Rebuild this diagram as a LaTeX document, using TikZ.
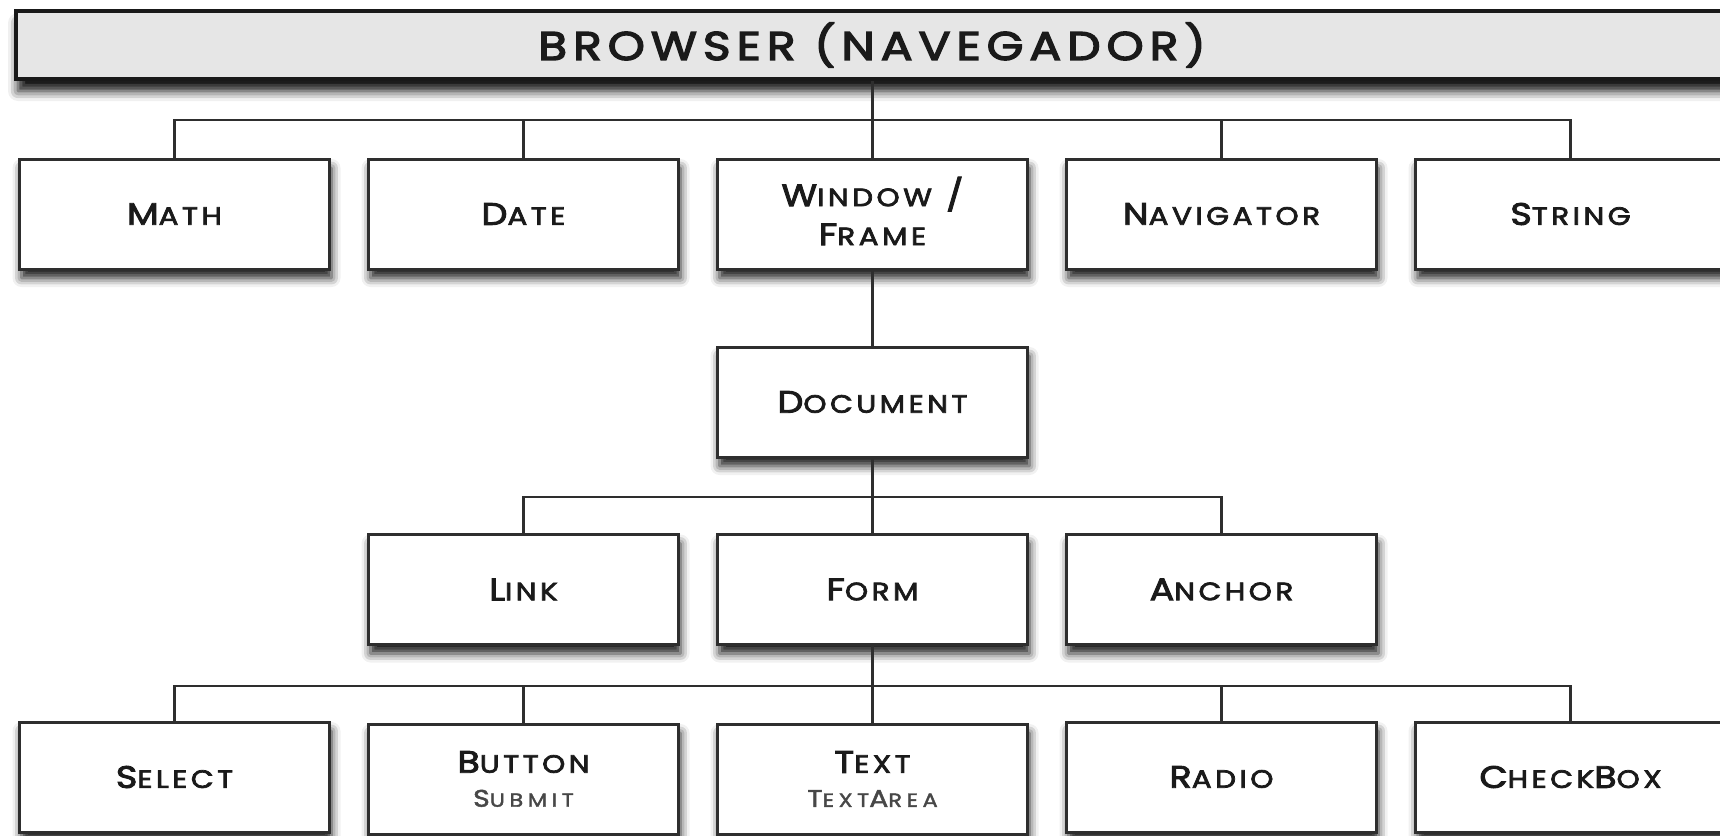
\documentclass[tikz,border=0pt]{standalone}
\usepackage{fontspec}
\setmainfont{Poppins}
\newfontfamily\lblfont{Poppins}[LetterSpace=14,FakeBold=3,FakeStretch=1.18]
\newfontfamily\barfont{Poppins}[LetterSpace=15,FakeBold=3.5,FakeStretch=1.18]
\newfontfamily\subfont{Poppins}[LetterSpace=24,FakeBold=2,FakeStretch=1.18]
\usetikzlibrary{shadows.blur}
\newcommand\BC[1]{{\fontsize{31pt}{39pt}\selectfont #1}}
\newcommand\SCp[1]{{\fontsize{25pt}{39pt}\selectfont #1}}
\newcommand\BCs[1]{{\fontsize{24pt}{30pt}\selectfont #1}}
\newcommand\SCs[1]{{\fontsize{19pt}{30pt}\selectfont #1}}
\definecolor{barfill}{HTML}{E6E6E6}
\definecolor{edge}{HTML}{2E2E2E}
\definecolor{ink}{HTML}{1A1A1A}
\begin{document}
\begin{tikzpicture}[x=1pt,y=-1pt,
  box/.style={draw=edge, line width=3pt, fill=white, minimum width=310pt,
    minimum height=110pt, inner sep=0pt, align=center, text=ink,
    font=\lblfont\fontsize{31pt}{39pt}\selectfont,
    blur shadow={shadow xshift=2pt, shadow yshift=-9pt, shadow blur radius=9pt, shadow opacity=90}},
  barbox/.style={draw=black!90, line width=3.5pt, fill=barfill, minimum width=1712pt,
    minimum height=68pt, inner sep=0pt, text=ink,
    font=\barfont\fontsize{40pt}{44pt}\selectfont,
    blur shadow={shadow xshift=2pt, shadow yshift=-12pt, shadow blur radius=10pt, shadow opacity=95}},
  conn/.style={draw=edge, line width=2.4pt}]
\useasboundingbox (0,0) rectangle (1720,835);
\node[barbox] (bar) at (872,45) {BROWSER (NAVEGADOR)};
% row 1
\node[box] (math)   at (174.5,214) {\BC{M}\SCp{ATH}};
\node[box] (date)   at (523.5,214) {\BC{D}\SCp{ATE}};
\node[box] (window) at (872.5,214) {\BC{W}\SCp{INDOW} \BC{/}\\\BC{F}\SCp{RAME}\rule[-6pt]{0pt}{1pt}};
\node[box] (nav)    at (1221.5,214) {\BC{N}\SCp{AVIGATOR}};
\node[box] (string) at (1570.5,214) {\BC{S}\SCp{TRING}};
% row 2
\node[box] (doc)    at (872.5,402) {\BC{D}\SCp{OCUMENT}};
% row 3
\node[box] (link)   at (523.5,589.5) {\BC{L}\SCp{INK}};
\node[box] (form)   at (872.5,589.5) {\BC{F}\SCp{ORM}};
\node[box] (anchor) at (1221.5,589.5) {\BC{A}\SCp{NCHOR}};
% row 4
\node[box] (select) at (174.5,777) {\BC{S}\SCp{ELECT}};
\node[box] (button) at (523.5,779) {\BC{B}\SCp{UTTON}\\[-5pt]{\subfont\color{black!72}\BCs{S}\SCs{UBMIT}}};
\node[box] (text)   at (872.5,779) {\BC{T}\SCp{EXT}\\[-5pt]{\subfont\color{black!72}\BCs{T}\SCs{EXT}\BCs{A}\SCs{REA}}};
\node[box] (radio)  at (1221.5,777) {\BC{R}\SCp{ADIO}};
\node[box] (check)  at (1570.5,777) {\BC{C}\SCp{HECK}\BC{B}\SCp{OX}};
% connectors
\coordinate (j1) at (872.5,120);
\coordinate (j3) at (872.5,497);
\coordinate (j4) at (872.5,686);
\draw[conn] (bar.south -| j1) -- (window.north);
\draw[conn] (j1) -| (math.north);
\draw[conn] (j1) -| (date.north);
\draw[conn] (j1) -| (nav.north);
\draw[conn] (j1) -| (string.north);
\draw[conn] (window.south) -- (doc.north);
\draw[conn] (doc.south) -- (form.north);
\draw[conn] (j3) -| (link.north);
\draw[conn] (j3) -| (anchor.north);
\draw[conn] (form.south) -- (text.north);
\draw[conn] (j4) -| (select.north);
\draw[conn] (j4) -| (button.north);
\draw[conn] (j4) -| (radio.north);
\draw[conn] (j4) -| (check.north);
\end{tikzpicture}
\end{document}
